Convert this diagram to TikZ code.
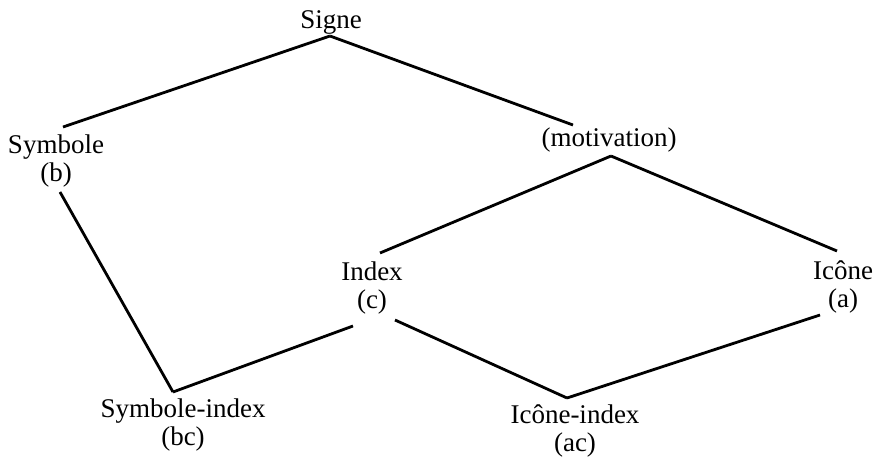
\documentclass[tikz,border=0pt]{standalone}
\usepackage{fontspec}
\setmainfont{Liberation Serif}
\begin{document}
\begin{tikzpicture}[x=1pt,y=-1pt,
  lbl/.style={align=center,inner sep=0pt,font=\fontsize{27}{28.5}\selectfont},
  edge/.style={line width=2.8pt}]
\useasboundingbox (0,0) rectangle (876,458);
\node[lbl] (signe)   at (331,22)  {Signe};
\node[lbl] (mot)     at (609,140) {(motivation)};
\node[lbl] (symb)    at (56,161)  {Symbole\\(b)};
\node[lbl] (idx)     at (372,288) {Index\\(c)};
\node[lbl] (ico)     at (843,287) {Icône\\(a)};
\node[lbl] (symbidx) at (183,425) {Symbole-index\\(bc)};
\node[lbl] (icoidx)  at (575,431) {Icône-index\\(ac)};
\draw[edge] ([shift={(-1,14)}]signe.center) -- ([shift={(7,-34)}]symb.center);
\draw[edge] ([shift={(-1,14)}]signe.center) -- ([shift={(-36,-15)}]mot.center);
\draw[edge] ([shift={(2,16)}]mot.center) -- ([shift={(8,-35)}]idx.center);
\draw[edge] ([shift={(2,16)}]mot.center) -- ([shift={(-6,-36)}]ico.center);
\draw[edge] ([shift={(4,31)}]symb.center) -- ([shift={(-10,-33)}]symbidx.center);
\draw[edge] ([shift={(-19,38)}]idx.center) -- ([shift={(-10,-33)}]symbidx.center);
\draw[edge] ([shift={(23,32)}]idx.center) -- ([shift={(-8,-33)}]icoidx.center);
\draw[edge] ([shift={(-23,28)}]ico.center) -- ([shift={(-8,-33)}]icoidx.center);
\end{tikzpicture}
\end{document}
